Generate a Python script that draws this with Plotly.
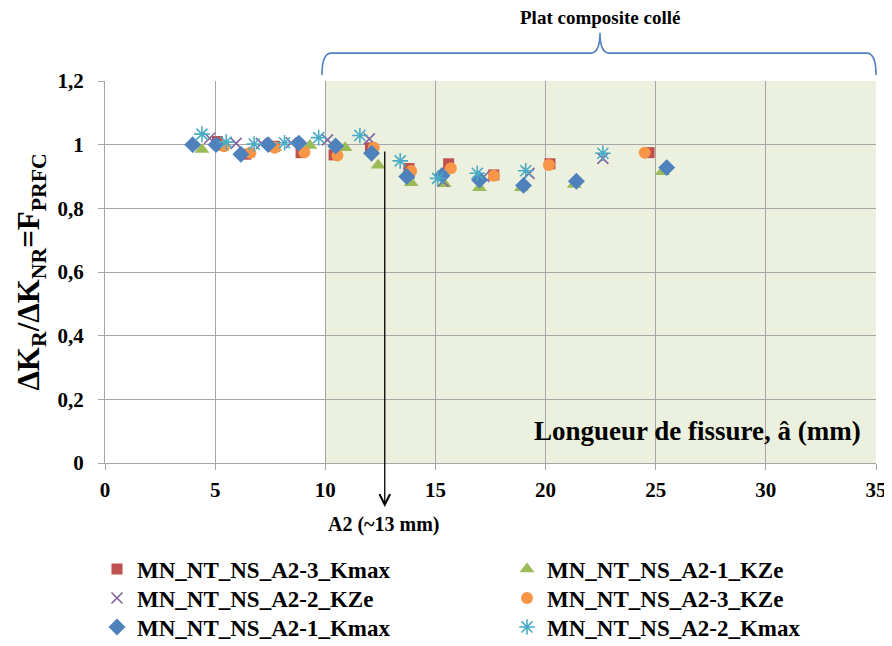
import plotly.graph_objects as go

# ---- data ----
sq_x = [5.1, 6.4, 7.7, 8.9, 10.4, 12.05, 13.8, 15.6, 17.65, 20.2, 24.7]
sq_y = [1.01, 0.97, 0.995, 0.975, 0.968, 0.99, 0.925, 0.94, 0.905, 0.94, 0.975]

tri_x = [4.4, 5.3, 6.5, 7.7, 9.3, 10.9, 12.4, 13.9, 15.4, 17.0, 18.9, 21.3, 25.3]
tri_y = [0.985, 0.99, 0.97, 0.99, 0.997, 0.99, 0.935, 0.88, 0.877, 0.865, 0.865, 0.875, 0.915]

xk_x = [4.75, 5.95, 7.1, 8.45, 10.1, 12.0, 13.8, 15.35, 17.2, 19.25, 22.6]
xk_y = [1.02, 1.004, 1.004, 1.006, 1.015, 1.018, 0.91, 0.885, 0.9, 0.91, 0.957]

ci_x = [5.4, 6.6, 7.7, 9.05, 10.55, 12.2, 13.9, 15.7, 17.65, 20.15, 24.5]
ci_y = [0.995, 0.975, 0.99, 0.976, 0.966, 0.99, 0.917, 0.926, 0.902, 0.936, 0.975]

di_x = [3.98, 5.04, 6.17, 7.41, 8.8, 10.47, 12.1, 13.7, 15.3, 17.0, 19.0, 21.4, 25.5]
di_y = [1.0, 1.0, 0.97, 1.0, 1.005, 0.996, 0.973, 0.9, 0.903, 0.889, 0.872, 0.885, 0.928]

st_x = [4.4, 5.5, 6.77, 8.15, 9.7, 11.57, 13.4, 15.1, 16.9, 19.1, 22.6]
st_y = [1.033, 1.008, 1.002, 1.006, 1.022, 1.029, 0.949, 0.894, 0.91, 0.918, 0.973]

names = ["MN_NT_NS_A2-3_Kmax", "MN_NT_NS_A2-1_KZe", "MN_NT_NS_A2-2_KZe",
         "MN_NT_NS_A2-3_KZe", "MN_NT_NS_A2-1_Kmax", "MN_NT_NS_A2-2_Kmax"]

x_ticks = [0, 5, 10, 15, 20, 25, 30, 35]
bonded_zone = [10, 35]
a2_pos = 12.7

FONT = "Liberation Serif"

fig = go.Figure()

series = [
    (sq_x, sq_y, names[0], dict(symbol="square", size=11, color="#C0504D")),
    (tri_x, tri_y, names[1], dict(symbol="triangle-up", size=13, color="#9BBB59")),
    (xk_x, xk_y, names[2], dict(symbol="x-thin", size=11, color="#8064A2",
                                line=dict(color="#8064A2", width=1.6))),
    (ci_x, ci_y, names[3], dict(symbol="circle", size=12, color="#F79646")),
    (di_x, di_y, names[4], dict(symbol="diamond", size=13, color="#4F81BD")),
    (st_x, st_y, names[5], dict(symbol="asterisk", size=13, color="#4BACC6",
                                line=dict(color="#4BACC6", width=1.6))),
]
legend_ids = ["legend", "legend2", "legend3", "legend4", "legend5", "legend6"]
for (x, y, n, m), lg in zip(series, legend_ids):
    fig.add_trace(go.Scatter(x=x, y=y, name=n, mode="markers", marker=m,
                             cliponaxis=False, legend=lg))

# shaded bonded-composite zone
fig.add_shape(type="rect", xref="x", yref="y", x0=bonded_zone[0], x1=bonded_zone[1],
              y0=0, y1=1.2, fillcolor="#EBF1DE", line=dict(width=0), layer="below")

# brace above the bonded zone (paper coordinates)
x0 = (bonded_zone[0] - 0.15) / 35
x1 = 1.0
xm = 0.642
y_end, y_line, y_tip = 1.016, 1.073, 1.126
dx = 0.012
path = (f"M{x0},{y_end} Q{x0},{y_line} {x0+dx},{y_line} L{xm-dx},{y_line} "
        f"Q{xm},{y_line} {xm},{y_tip} Q{xm},{y_line} {xm+dx},{y_line} "
        f"L{x1-dx},{y_line} Q{x1},{y_line} {x1},{y_end}")
fig.add_shape(type="path", xref="paper", yref="paper", path=path,
              line=dict(color="#4F81BD", width=1.6))

fig.add_annotation(xref="paper", yref="paper", x=xm, y=1.166, xanchor="center", yanchor="middle",
                   text="Plat composite collé", showarrow=False,
                   font=dict(family=FONT, size=19, color="black", weight="bold"))

# arrow A2
fig.add_annotation(xref="x", yref="paper", x=a2_pos, y=-0.1152, text="",
                   showarrow=True, ax=0, ay=-357, arrowhead=5, arrowsize=1.6,
                   arrowwidth=1.3, arrowcolor="black")
fig.add_annotation(xref="x", yref="paper", x=12.64, y=-0.162, xanchor="center", yanchor="middle",
                   text="A2 (~13 mm)", showarrow=False,
                   font=dict(family=FONT, size=20, color="black", weight="bold"))

fig.add_annotation(xref="x", yref="y", x=26.9, y=0.1, xanchor="center", yanchor="middle",
                   text="Longueur de fissure, â (mm)", showarrow=False,
                   font=dict(family=FONT, size=27, color="black", weight="bold"))

leg_font = dict(family=FONT, size=23, color="black", weight="bold")
col_x = [-0.0104, 0.5214]
row_y = [-0.2775, -0.3534, -0.4293]
legend_layout = {}
for i, lg in enumerate(legend_ids):
    legend_layout[lg] = dict(x=col_x[i % 2], y=row_y[i // 2], xanchor="left", yanchor="middle",
                             font=leg_font, bgcolor="rgba(0,0,0,0)", borderwidth=0)

# the page body adds an 8px offset, so the figure is 8px smaller and shifted
fig.update_layout(
    width=884, height=638,
    margin=dict(l=97, r=16, t=73, b=183, autoexpand=False),
    paper_bgcolor="white", plot_bgcolor="white",
    separators=", ",
    font=dict(family=FONT, color="black"),
    showlegend=True,
    xaxis=dict(range=[0, 35], tickvals=x_ticks, showgrid=True, gridcolor="#A6A6A6",
               gridwidth=1.3, zeroline=False, showline=True, linecolor="#A6A6A6",
               linewidth=1.3, ticks="outside", ticklen=6, tickcolor="#A6A6A6",
               ticklabelstandoff=2, automargin=False,
               tickfont=dict(family=FONT, size=21, color="black", weight="bold")),
    yaxis=dict(range=[0, 1.2], dtick=0.2, showgrid=True, gridcolor="#A6A6A6",
               gridwidth=1.3, zeroline=False, showline=True, linecolor="#A6A6A6",
               linewidth=1.3, ticks="outside", ticklen=6, tickcolor="#A6A6A6",
               ticklabelstandoff=10, automargin=False,
               tickfont=dict(family=FONT, size=21, color="black", weight="bold"),
               title=dict(text="ΔK<sub>R</sub>/ΔK<sub>NR</sub>=F<sub>PRFC</sub>",
                          font=dict(family=FONT, size=31, color="black", weight="bold"),
                          standoff=8)),
    **legend_layout,
)

fig.write_html("out.html")
